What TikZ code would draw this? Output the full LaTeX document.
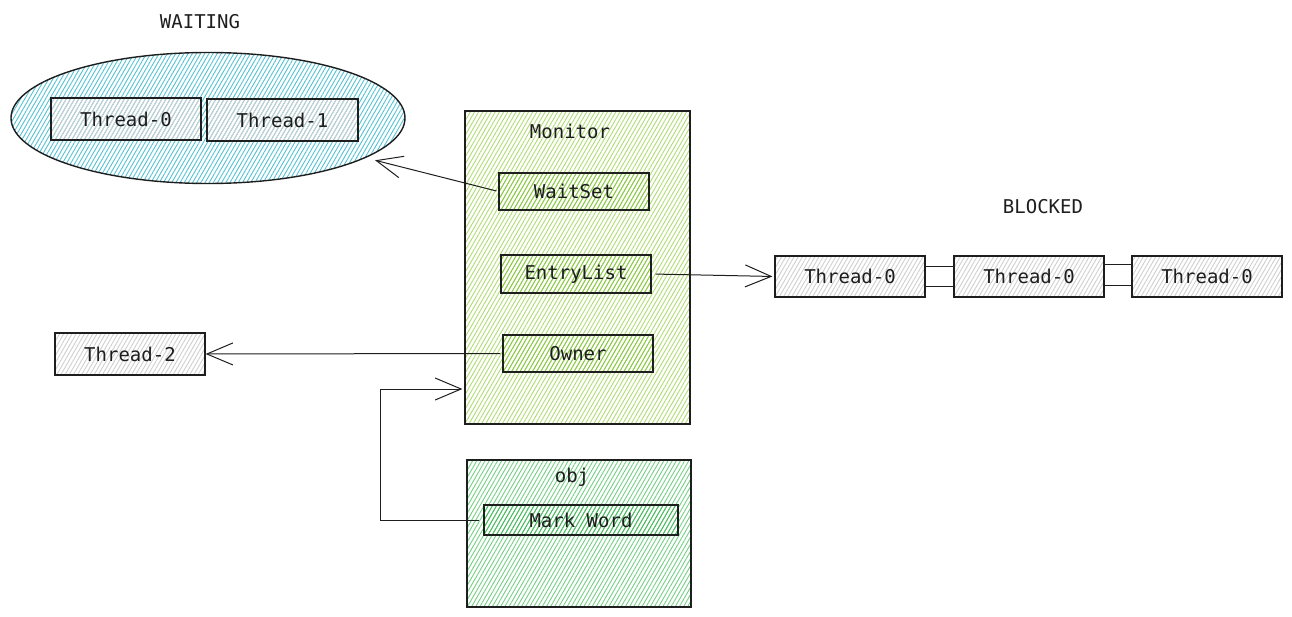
\documentclass[tikz,border=0pt]{standalone}
\usepackage{fontspec}
\setmonofont{DejaVu Sans Mono}
\usetikzlibrary{patterns.meta,shapes.geometric,arrows.meta}
\definecolor{ink}{HTML}{1E1E1E}
\definecolor{cyanh}{HTML}{55C2D4}
\definecolor{limeh}{HTML}{B0DC74}
\definecolor{limed}{HTML}{8CC94A}
\definecolor{greenh}{HTML}{74CF84}
\definecolor{greend}{HTML}{4DBA62}
\definecolor{greyh}{HTML}{CFCFCF}
\tikzset{
  hatch/.style={pattern={Lines[angle=60,distance=3.6pt,line width=0.9pt]},pattern color=#1},
  box/.style={draw=ink,line width=1.2pt,inner sep=0pt,font=\ttfamily\fontsize{19}{21}\selectfont,text=ink},
  thr/.style={box,minimum width=150pt,minimum height=42pt,hatch=greyh},
  lbl/.style={font=\ttfamily\fontsize{19}{21}\selectfont,text=ink,inner sep=0pt},
  conn/.style={draw=ink,line width=1pt},
  arr/.style={conn,-{Straight Barb[length=26pt,width=22pt,line width=1pt]}}
}
\begin{document}
\begin{tikzpicture}[x=1pt,y=-1pt]
\useasboundingbox (0,0) rectangle (1292,617);
% WAITING
\node[lbl] (waitlbl) at (200,22) {WAITING};
\node[ellipse,draw=ink,line width=1.4pt,minimum width=394pt,minimum height=131pt,inner sep=0pt,hatch=cyanh] (wait) at (208,118) {};
\node[thr] (w0) at (126,119) {Thread-0};
\node[thr,minimum width=151pt] (w1) at (282.5,120) {Thread-1};
% Monitor
\node[box,minimum width=225pt,minimum height=313pt,hatch=limeh] (monitor) at (577.5,267.5) {};
\node[lbl] (monlbl) at (570,131) {Monitor};
\node[box,minimum width=150pt,minimum height=37pt,hatch=limed] (waits) at (574,191.5) {WaitSet};
\node[box,minimum width=150pt,minimum height=38pt,hatch=limed] (entry) at (576,274) {EntryList};
\node[box,minimum width=150pt,minimum height=37pt,hatch=limed] (owner) at (578,353.5) {Owner};
% BLOCKED
\node[lbl] (blocklbl) at (1043,207) {BLOCKED};
\node[thr,minimum height=41pt] (b0) at (850,276.5) {Thread-0};
\node[thr,minimum height=41pt] (b1) at (1029,276.5) {Thread-0};
\node[thr,minimum height=41pt] (b2) at (1207,276.5) {Thread-0};
\draw[conn] ([yshift=9.5pt]b0.east) -- ([yshift=9.5pt]b1.west);
\draw[conn] ([yshift=-10.5pt]b0.east) -- ([yshift=-10.5pt]b1.west);
\draw[conn] ([yshift=11.5pt]b1.east) -- ([yshift=11.5pt]b2.west);
\draw[conn] ([yshift=-9.5pt]b1.east) -- ([yshift=-9.5pt]b2.west);
% Thread-2
\node[thr] (t2) at (130,354) {Thread-2};
% obj
\node[box,minimum width=224pt,minimum height=147pt,hatch=greenh] (obj) at (579,533.5) {};
\node[lbl] (objlbl) at (572,477) {obj};
\node[box,minimum width=194pt,minimum height=30pt,hatch=greend] (mark) at (581,520) {Mark Word};
% connectors
\draw[arr,shorten <=2pt,shorten >=10pt] (waits.west) -- (wait);
\draw[arr,shorten <=4pt,shorten >=2pt] (entry.east) -- (b0.west);
\draw[arr,shorten <=2pt] (owner.west) -- (t2.east);
\coordinate (corner) at (380,389);
\draw[arr,shorten <=4pt,shorten >=2pt] (mark.west) -| (corner) -- (monitor.west |- corner);
\end{tikzpicture}
\end{document}
